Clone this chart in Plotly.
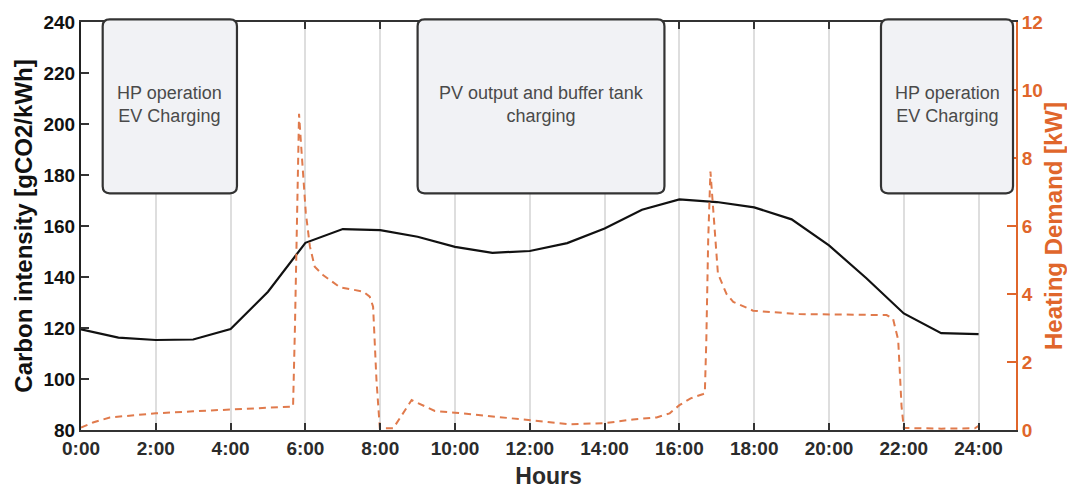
import plotly.graph_objects as go

# ---------------- data ----------------
hours = list(range(0, 25))
carbon_intensity = [119.5, 116.2, 115.3, 115.5, 119.6, 134.2, 153.4, 158.8, 158.4, 155.8,
                    151.8, 149.5, 150.2, 153.3, 159.0, 166.4, 170.4, 169.4, 167.3, 162.6,
                    152.4, 139.5, 125.7, 118.0, 117.6]

heat_hours = [0.0, 0.32, 0.77, 2.0, 3.0, 4.0, 5.0, 5.67, 5.72, 5.77, 5.83, 5.89, 5.94, 6.01,
              6.12, 6.25, 6.47, 6.92, 7.55, 7.72, 7.81, 7.9, 7.99, 8.35, 8.84, 9.46, 10.0,
              11.0, 12.0, 13.07, 14.0, 14.76, 15.39, 15.74, 16.0, 16.3, 16.64, 16.68, 16.72,
              16.77, 16.83, 16.9, 16.99, 17.03, 17.26, 17.44, 17.97, 19.2, 21.54, 21.71,
              21.85, 21.94, 22.0, 23.0, 23.9, 24.0]
heat_demand = [0.07, 0.22, 0.37, 0.49, 0.55, 0.61, 0.65, 0.69, 3.0, 6.5, 9.3, 8.3, 7.35, 6.4,
               5.4, 4.8, 4.56, 4.2, 4.07, 3.92, 3.63, 1.47, 0.05, 0.05, 0.88, 0.56, 0.51,
               0.4, 0.27, 0.17, 0.2, 0.31, 0.37, 0.49, 0.73, 0.93, 1.06, 1.08, 2.65,
               5.6, 7.6, 6.57, 5.29, 4.6, 4.0, 3.77, 3.51, 3.41, 3.38, 3.28,
               2.65, 0.69, 0.06, 0.04, 0.05, 0.12]

tick_vals = list(range(0, 25, 2))
tick_text = [f"{h}:00" for h in tick_vals]

box_labels = ["HP operation<br>EV Charging",
              "PV output and buffer tank<br>charging",
              "HP operation<br>EV Charging"]

# ---------------- layout constants ----------------
X_MAX = 25.0
boxes_x = [(0.58, 4.17), (9.0, 15.6), (21.39, 24.92)]   # hours
BOX_Y0, BOX_Y1 = 0.580, 1.0066                          # paper
PLOT_W, PLOT_H = 935.0, 408.0
RADIUS = 7.0

ORANGE = "#E0662B"
ORANGE_LINE = "#E07A4C"
DARK = "#2b2b2b"
FONT = "Liberation Sans, Arial, sans-serif"

fig = go.Figure()

fig.add_trace(go.Scatter(
    x=hours, y=carbon_intensity, mode="lines",
    line=dict(color="#111111", width=2.2), yaxis="y", showlegend=False))

fig.add_trace(go.Scatter(
    x=heat_hours, y=heat_demand, mode="lines",
    line=dict(color=ORANGE_LINE, width=2, dash="7px,5px"), yaxis="y2", showlegend=False))


def rounded_path(x0, x1, y0, y1):
    rx = RADIUS / PLOT_W
    ry = RADIUS / PLOT_H
    return (f"M {x0+rx},{y0} L {x1-rx},{y0} Q {x1},{y0} {x1},{y0+ry} "
            f"L {x1},{y1-ry} Q {x1},{y1} {x1-rx},{y1} L {x0+rx},{y1} "
            f"Q {x0},{y1} {x0},{y1-ry} L {x0},{y0+ry} Q {x0},{y0} {x0+rx},{y0} Z")


shapes = []
annotations = []
for (hx0, hx1), label in zip(boxes_x, box_labels):
    px0, px1 = hx0 / X_MAX, hx1 / X_MAX
    shapes.append(dict(type="path", xref="paper", yref="paper",
                       path=rounded_path(px0, px1, BOX_Y0, BOX_Y1),
                       fillcolor="#F1F2F5", line=dict(color="#333333", width=2.2),
                       layer="above"))
    annotations.append(dict(x=(hx0 + hx1) / 2, y=0.797, xref="x", yref="paper",
                            xanchor="center", yanchor="middle",
                            text=label, showarrow=False,
                            font=dict(family=FONT, size=18, color="#4a4a4a")))

fig.update_layout(
    width=1067, height=489,
    margin=dict(l=81, r=51, t=22, b=59, autoexpand=False),
    paper_bgcolor="white", plot_bgcolor="white",
    showlegend=False,
    shapes=shapes, annotations=annotations,
    xaxis=dict(
        range=[0, X_MAX], tickvals=tick_vals, ticktext=tick_text,
        automargin=False,
        showgrid=True, gridcolor="#DEDEDE", gridwidth=1.5,
        showline=True, linecolor="#333333", linewidth=2, mirror="ticks",
        ticks="inside", ticklen=7, tickwidth=1.5, tickcolor="#333333",
        tickfont=dict(family=FONT, size=19, color=DARK, weight="bold"),
        title=dict(text="Hours", standoff=10,
                   font=dict(family=FONT, size=23, color=DARK, weight="bold")),
        zeroline=False,
    ),
    yaxis=dict(
        range=[80, 240], dtick=20, automargin=False,
        showgrid=False, zeroline=False,
        showline=True, linecolor="#222222", linewidth=2,
        ticks="inside", ticklen=8, tickwidth=1.5, tickcolor="#333333",
        tickfont=dict(family=FONT, size=19, color="#111111", weight="bold"),
        title=dict(text="Carbon intensity [gCO2/kWh]", standoff=4,
                   font=dict(family=FONT, size=24, color="#111111", weight="bold")),
    ),
    yaxis2=dict(
        range=[0, 12], dtick=2, overlaying="y", side="right", automargin=False,
        showgrid=False, zeroline=False,
        showline=True, linecolor=ORANGE, linewidth=2,
        ticks="inside", ticklen=9, tickwidth=1.5, tickcolor=ORANGE,
        tickfont=dict(family=FONT, size=19, color=ORANGE, weight="bold"),
        title=dict(text="Heating Demand [kW]", standoff=4,
                   font=dict(family=FONT, size=24, color=ORANGE, weight="bold")),
    ),
)

fig.write_html("out.html")
